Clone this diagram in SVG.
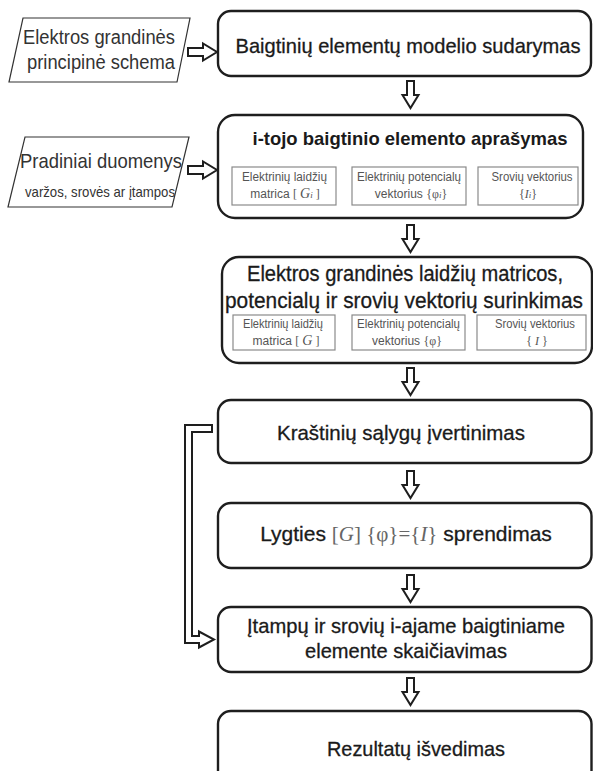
<svg xmlns="http://www.w3.org/2000/svg" width="593" height="771" viewBox="0 0 593 771">
  <style>
    .box { fill: #fff; stroke: #1e1e1e; stroke-width: 2.4; }
    .io { fill: #fff; stroke: #333; stroke-width: 1.2; }
    .sub { fill: #fff; stroke: #8a8a8a; stroke-width: 1.2; }
    .arrow { fill: #fff; stroke: #1e1e1e; stroke-width: 2; stroke-linejoin: miter; }
    .t { font-family: "Liberation Sans", Arial, sans-serif; fill: #1a1a1a; text-anchor: middle; stroke: #1a1a1a; stroke-width: 0.3; }
    .title { font-size: 21px; }
    .bold { font-weight: bold; stroke-width: 0; }
    .io-t { font-family: "Liberation Sans", Arial, sans-serif; fill: #333; text-anchor: middle; }
    .small { font-family: "Liberation Sans", Arial, sans-serif; font-size: 12px; fill: #555; text-anchor: middle; }
    .m { font-family: "Liberation Serif", "Times New Roman", serif; stroke-width: 0; }
    .mi { font-family: "Liberation Serif", "Times New Roman", serif; font-style: italic; stroke-width: 0; }
  </style>
  <defs>
    <!-- hollow block arrow pointing down, tip at (0,0) -->
    <path id="down" class="arrow" d="M-3.5,-27 H3.5 V-13 H8 L0,0 L-8,-13 H-3.5 Z"/>
    <!-- hollow block arrow pointing right, tip at (0,0) -->
    <path id="right" class="arrow" d="M-29,-4 H-14 V-8.5 L0,0 L-14,8.5 V4 H-29 Z"/>
  </defs>

  <!-- inputs -->
  <g id="input-schema">
    <polygon class="io" points="23,18 190,18 177,82 9,82"/>
    <text class="io-t" x="99" y="44" font-size="20" textLength="152" lengthAdjust="spacingAndGlyphs">Elektros grandinės</text>
    <text class="io-t" x="101" y="69" font-size="20" textLength="148" lengthAdjust="spacingAndGlyphs">principinė schema</text>
  </g>
  <g id="input-data">
    <polygon class="io" points="25,137 189,137 172,207 8,207"/>
    <text class="io-t" x="101" y="168" font-size="21" textLength="162" lengthAdjust="spacingAndGlyphs">Pradiniai duomenys</text>
    <text class="io-t" x="100" y="197" font-size="15" textLength="150" lengthAdjust="spacingAndGlyphs">varžos, srovės ar įtampos</text>
  </g>

  <!-- process steps -->
  <g id="step-model">
    <rect class="box" x="218" y="11" width="373" height="65" rx="13"/>
    <text class="t title" x="408" y="53" textLength="345" lengthAdjust="spacingAndGlyphs">Baigtinių elementų modelio sudarymas</text>
  </g>

  <g id="step-element">
    <rect class="box" x="218" y="115" width="365" height="103" rx="17"/>
    <text class="t bold" x="410" y="145" font-size="19" textLength="315" lengthAdjust="spacingAndGlyphs">i-tojo baigtinio elemento aprašymas</text>
    <rect class="sub" x="232" y="167" width="104" height="38"/>
    <text class="small" x="284.5" y="181" textLength="85" lengthAdjust="spacingAndGlyphs">Elektrinių laidžių</text>
    <text class="small" x="285" y="198">matrica <tspan class="m">[ </tspan><tspan class="mi" font-size="14">G</tspan><tspan class="mi" font-size="9">i</tspan><tspan class="m"> ]</tspan></text>
    <rect class="sub" x="352" y="167" width="114" height="38"/>
    <text class="small" x="409" y="181" textLength="104" lengthAdjust="spacingAndGlyphs">Elektrinių potencialų</text>
    <text class="small" x="411" y="198">vektorius <tspan class="m">{φ</tspan><tspan class="mi" font-size="9">i</tspan><tspan class="m">}</tspan></text>
    <rect class="sub" x="478" y="167" width="100" height="38"/>
    <text class="small" x="532" y="181" textLength="81" lengthAdjust="spacingAndGlyphs">Srovių vektorius</text>
    <text class="small" x="528" y="198"><tspan class="m">{</tspan><tspan class="mi">I</tspan><tspan class="mi" font-size="9">i</tspan><tspan class="m">}</tspan></text>
  </g>

  <g id="step-assembly">
    <rect class="box" x="222" y="257" width="370" height="106" rx="17"/>
    <text class="t" x="405" y="281" font-size="22" textLength="316" lengthAdjust="spacingAndGlyphs">Elektros grandinės laidžių matricos,</text>
    <text class="t" x="404" y="308" font-size="22" textLength="358" lengthAdjust="spacingAndGlyphs">potencialų ir srovių vektorių surinkimas</text>
    <rect class="sub" x="233" y="315" width="102" height="35"/>
    <text class="small" x="283" y="328" textLength="80" lengthAdjust="spacingAndGlyphs">Elektrinių laidžių</text>
    <text class="small" x="286" y="345">matrica <tspan class="m">[ </tspan><tspan class="mi" font-size="14">G</tspan><tspan class="m"> ]</tspan></text>
    <rect class="sub" x="352" y="315" width="113" height="35"/>
    <text class="small" x="408.5" y="328" textLength="103" lengthAdjust="spacingAndGlyphs">Elektrinių potencialų</text>
    <text class="small" x="407" y="345">vektorius <tspan class="m">{φ}</tspan></text>
    <rect class="sub" x="477" y="315" width="109" height="35"/>
    <text class="small" x="535" y="328" textLength="80" lengthAdjust="spacingAndGlyphs">Srovių vektorius</text>
    <text class="small" x="537" y="345"><tspan class="m">{ </tspan><tspan class="mi">I</tspan><tspan class="m"> }</tspan></text>
  </g>

  <g id="step-boundary">
    <rect class="box" x="218" y="400" width="373.5" height="63" rx="13"/>
    <text class="t title" x="401" y="440" textLength="248" lengthAdjust="spacingAndGlyphs">Kraštinių sąlygų įvertinimas</text>
  </g>

  <g id="step-solve">
    <rect class="box" x="218" y="503" width="373.5" height="65" rx="13"/>
    <text class="t title" x="406" y="541">Lygties <tspan class="m" fill="#666">[</tspan><tspan class="mi" fill="#666">G</tspan><tspan class="m" fill="#666">]  {φ}={</tspan><tspan class="mi" fill="#666">I</tspan><tspan class="m" fill="#666">}</tspan> sprendimas</text>
  </g>

  <g id="step-compute">
    <rect class="box" x="218" y="607" width="373.5" height="65" rx="13"/>
    <text class="t title" x="406" y="633" textLength="318" lengthAdjust="spacingAndGlyphs">Įtampų ir srovių i-ajame baigtiniame</text>
    <text class="t title" x="406" y="658" textLength="202" lengthAdjust="spacingAndGlyphs">elemente skaičiavimas</text>
  </g>

  <g id="step-output">
    <rect class="box" x="218" y="711" width="373.5" height="80" rx="13"/>
    <text class="t title" x="416" y="756" textLength="178" lengthAdjust="spacingAndGlyphs">Rezultatų išvedimas</text>
  </g>

  <!-- connectors -->
  <g id="connectors">
    <use href="#right" x="217" y="52"/>
    <use href="#right" x="217" y="170"/>
    <use href="#down" x="410.5" y="108"/>
    <use href="#down" x="410.5" y="252"/>
    <use href="#down" x="410.5" y="395"/>
    <use href="#down" x="410.5" y="498"/>
    <use href="#down" x="410.5" y="602"/>
    <use href="#down" x="410.5" y="705"/>
    <!-- feedback from boundary conditions to element computation -->
    <path class="arrow" d="M212,425 H185 V643 H199 V647.5 L214,639.5 L199,631.5 V636 H192 V432 H212 Z"/>
  </g>
</svg>
